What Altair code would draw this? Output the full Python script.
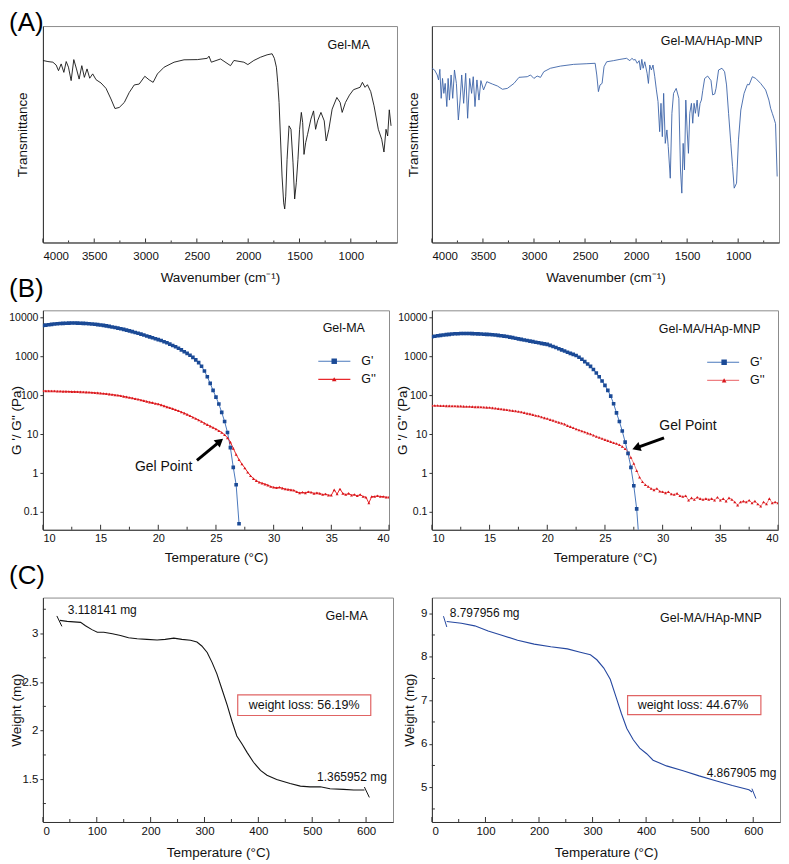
import altair as alt
import pandas as pd

FONT = "Liberation Sans"
AX = "#333333"
FRAME = "#8c8c8c"

# ---------------- (A) FTIR spectra: (wavenumber cm-1, transmittance a.u.) ----------------
A1_GELMA = [(4000, 84.1), (3951, 83.6), (3903, 83.3), (3871, 82.0), (3848, 79.4), (3822, 82.5), (3796, 78.6),
            (3773, 83.6), (3751, 81.0), (3725, 74.8), (3699, 84.5), (3673, 80.2), (3647, 75.5), (3621, 81.7),
            (3596, 76.3), (3570, 80.2), (3544, 75.9), (3515, 77.9), (3482, 75.2), (3434, 73.7), (3385, 71.2),
            (3337, 66.3), (3298, 61.9), (3256, 62.4), (3207, 64.7), (3159, 69.3), (3110, 72.8), (3062, 73.2),
            (3007, 76.8), (2964, 75.1), (2926, 74.0), (2884, 77.9), (2819, 81.0), (2722, 83.3), (2625, 84.4),
            (2495, 84.5), (2398, 85.1), (2382, 86.1), (2359, 83.3), (2269, 84.8), (2172, 81.7), (2139, 84.1),
            (2042, 83.3), (2003, 82.2), (1945, 84.1), (1880, 85.6), (1816, 86.7), (1767, 87.2), (1745, 85.1),
            (1725, 81.0), (1712, 74.0), (1699, 64.7), (1686, 49.2), (1670, 30.7), (1654, 18.3), (1644, 15.5),
            (1634, 21.4), (1621, 38.4), (1602, 53.9), (1583, 52.3), (1563, 36.8), (1547, 20.1), (1531, 27.6),
            (1515, 38.4), (1499, 52.3), (1482, 60.1), (1469, 55.4), (1456, 40.7), (1440, 46.1), (1421, 50.0),
            (1389, 57.0), (1363, 60.8), (1343, 52.3), (1324, 56.2), (1291, 60.1), (1259, 56.2), (1240, 46.9),
            (1214, 52.3), (1182, 61.6), (1136, 67.0), (1104, 64.7), (1084, 60.1), (1052, 64.7), (1013, 68.1),
            (974, 70.6), (910, 71.7), (887, 74.0), (861, 71.7), (838, 72.9), (806, 69.7), (774, 63.2),
            (732, 52.3), (699, 47.7), (677, 41.8), (657, 52.3), (641, 49.2), (625, 61.3), (608, 53.9)]

A2_HAP = [(4000, 80.5), (3974, 79.7), (3948, 77.4), (3935, 75.1), (3922, 80.0), (3909, 66.6), (3896, 75.8),
          (3883, 68.9), (3870, 73.5), (3854, 62.8), (3841, 75.8), (3828, 65.8), (3812, 77.4), (3796, 66.6),
          (3779, 79.7), (3760, 73.5), (3741, 56.6), (3724, 65.8), (3708, 77.4), (3689, 64.3), (3669, 78.2),
          (3650, 57.4), (3630, 75.8), (3611, 68.9), (3595, 76.6), (3578, 62.8), (3559, 75.1), (3539, 65.8),
          (3520, 74.8), (3494, 70.5), (3462, 74.3), (3407, 73.2), (3358, 72.3), (3309, 70.8), (3261, 71.2),
          (3196, 73.5), (3147, 76.3), (3066, 76.6), (3034, 77.4), (3001, 75.8), (2969, 76.9), (2936, 76.3),
          (2904, 78.9), (2839, 80.5), (2742, 81.5), (2612, 82.3), (2482, 82.6), (2401, 82.8), (2385, 77.4),
          (2369, 69.7), (2353, 72.8), (2333, 73.5), (2314, 81.2), (2288, 83.5), (2223, 84.0), (2158, 84.6),
          (2093, 85.1), (2061, 84.0), (2041, 85.1), (2022, 84.3), (2009, 84.6), (1989, 82.8), (1970, 84.0),
          (1957, 79.7), (1944, 84.6), (1931, 80.5), (1915, 83.5), (1892, 78.2), (1879, 73.5), (1866, 82.0),
          (1850, 79.7), (1834, 82.0), (1817, 76.6), (1801, 70.5), (1785, 65.1), (1769, 51.2), (1756, 64.3),
          (1743, 48.9), (1730, 68.9), (1714, 45.8), (1698, 52.0), (1685, 44.3), (1665, 29.7), (1649, 59.7),
          (1633, 68.9), (1607, 71.2), (1581, 66.6), (1565, 33.5), (1552, 22.8), (1539, 45.8), (1526, 33.5),
          (1513, 65.8), (1500, 52.0), (1487, 41.2), (1474, 59.7), (1458, 64.3), (1445, 55.1), (1432, 64.3),
          (1419, 59.7), (1402, 65.8), (1389, 58.2), (1373, 64.3), (1360, 65.8), (1347, 70.2), (1328, 75.8),
          (1299, 76.9), (1266, 74.8), (1250, 68.2), (1230, 68.6), (1217, 71.2), (1192, 79.7), (1159, 80.5),
          (1133, 78.9), (1114, 72.8), (1094, 59.7), (1072, 45.8), (1055, 35.1), (1039, 25.1), (1016, 27.4),
          (997, 47.4), (974, 61.2), (942, 68.9), (909, 73.1), (893, 72.8), (861, 76.6), (828, 75.8),
          (780, 73.5), (731, 70.5), (699, 65.8), (682, 62.0), (666, 59.7), (650, 57.4), (634, 54.9), (618, 30.5)]

A_LABELS = [4000, 3500, 3000, 2500, 2000, 1500, 1000]
A_MINOR = [3750, 3250, 2750, 2250, 1750, 1250, 750]

# ---------------- (B) rheology: temperature grid (degC) and moduli (Pa) ----------------
T_GRID = [10.0, 10.25, 10.5, 10.75, 11.0, 11.25, 11.5, 11.75, 12.0, 12.25,
          12.5, 12.75, 13.0, 13.25, 13.5, 13.75, 14.0, 14.25, 14.5, 14.75,
          15.0, 15.25, 15.5, 15.75, 16.0, 16.25, 16.5, 16.75, 17.0, 17.25,
          17.5, 17.75, 18.0, 18.25, 18.5, 18.75, 19.0, 19.25, 19.5, 19.75,
          20.0, 20.25, 20.5, 20.75, 21.0, 21.25, 21.5, 21.75, 22.0, 22.25,
          22.5, 22.75, 23.0, 23.25, 23.5, 23.75, 24.0, 24.25, 24.5, 24.75,
          25.0, 25.25, 25.5, 25.75, 26.0, 26.25, 26.5, 26.75, 27.0, 27.25,
          27.5, 27.75, 28.0, 28.25, 28.5, 28.75, 29.0, 29.25, 29.5, 29.75,
          30.0, 30.25, 30.5, 30.75, 31.0, 31.25, 31.5, 31.75, 32.0, 32.25,
          32.5, 32.75, 33.0, 33.25, 33.5, 33.75, 34.0, 34.25, 34.5, 34.75,
          35.0, 35.25, 35.5, 35.75, 36.0, 36.25, 36.5, 36.75, 37.0, 37.25,
          37.5, 37.75, 38.0, 38.25, 38.5, 38.75, 39.0, 39.25, 39.5, 39.75,
          40.0]

GP_GELMA = [6100, 6250, 6400, 6550, 6680, 6800, 6880, 6950, 7000, 7040,
            7060, 7060, 7040, 7000, 6950, 6880, 6800, 6700, 6580, 6440,
            6300, 6150, 5980, 5800, 5620, 5440, 5250, 5060, 4860, 4660,
            4450, 4250, 4050, 3860, 3670, 3480, 3300, 3130, 2960, 2800,
            2650, 2510, 2340, 2200, 2040, 1880, 1740, 1600, 1450, 1300,
            1175, 1050, 930, 800, 680, 550, 415, 295, 200, 132,
            89, 59, 36, 21, 11, 4.5, 1.4, 0.5, 0.05]

GPP_GELMA = [129, 128, 128, 127, 127, 126, 126, 125, 125, 124,
             123, 123, 122, 121, 120, 119, 118, 117, 115, 114,
             112, 110, 108, 106, 104, 101, 99, 96, 93, 90,
             87, 84, 81, 78, 75, 72, 69, 66, 64, 61,
             59, 56, 53, 50, 47.5, 45, 42, 39.5, 37, 34.5,
             32, 29.5, 27, 25, 23, 21, 19, 17.5, 16, 14.7,
             13.5, 12.2, 11, 9.6, 8, 6.2, 4.3, 3.0, 2.2, 1.7,
             1.35, 1.05, 0.85, 0.72, 0.64, 0.58, 0.55, 0.52, 0.49, 0.45,
             0.43, 0.42, 0.43, 0.41, 0.39, 0.38, 0.37, 0.36, 0.33, 0.31,
             0.32, 0.31, 0.33, 0.32, 0.30, 0.31, 0.30, 0.28, 0.29, 0.27,
             0.27, 0.37, 0.29, 0.39, 0.30, 0.28, 0.30, 0.27, 0.28, 0.26,
             0.28, 0.25, 0.24, 0.17, 0.25, 0.25, 0.26, 0.25, 0.25, 0.24,
             0.24]

GP_HAP = [3150, 3250, 3340, 3420, 3500, 3570, 3630, 3690, 3740, 3770,
          3800, 3810, 3810, 3800, 3790, 3760, 3730, 3700, 3660, 3630,
          3600, 3540, 3480, 3410, 3340, 3260, 3180, 3080, 2980, 2880,
          2780, 2690, 2600, 2515, 2430, 2355, 2275, 2200, 2130, 2060,
          2000, 1885, 1770, 1660, 1550, 1445, 1350, 1260, 1175, 1110,
          1040, 935, 830, 725, 630, 545, 455, 370, 295, 230,
          178, 132, 94, 60, 35, 21, 12, 6.2, 3.2, 1.4,
          0.47, 0.12, 0.012]

GPP_HAP = [54, 54, 54, 53.5, 53.5, 53, 53, 52.5, 52.5, 52,
           52, 51.5, 51, 51, 50.5, 50, 50, 49.5, 49, 48.5,
           48, 47, 46, 45, 44, 43, 42, 41, 40, 39,
           38, 37, 35.5, 34, 33, 31.5, 30, 29, 27.5, 26,
           25, 23.5, 22.5, 21, 20, 19, 18, 16.5, 15.5, 14.5,
           13.5, 12.7, 12, 11.3, 10.6, 10, 9.3, 8.7, 8.2, 7.7,
           7.2, 6.8, 6.4, 6.0, 5.7, 5.3, 4.8, 4.2, 3.4, 2.5,
           1.75, 1.15, 0.78, 0.6, 0.5, 0.45, 0.4, 0.37, 0.40, 0.34,
           0.33, 0.31, 0.33, 0.29, 0.28, 0.30, 0.26, 0.25, 0.26, 0.20,
           0.23, 0.21, 0.24, 0.22, 0.21, 0.22, 0.21, 0.22, 0.20, 0.24,
           0.20, 0.22, 0.19, 0.23, 0.21, 0.18, 0.15, 0.18, 0.19, 0.18,
           0.20, 0.17, 0.19, 0.16, 0.14, 0.18, 0.16, 0.22, 0.17, 0.18,
           0.17]

B_LABELS = [10, 15, 20, 25, 30, 35, 40]
B_MINOR = [12.5, 17.5, 22.5, 27.5, 32.5, 37.5]
B_YLABELS = [0.1, 1, 10, 100, 1000, 10000]

# ---------------- (C) TGA: (temperature degC, weight mg) ----------------
C1_GELMA = [(31.5, 3.135), (45, 3.125), (70, 3.115), (79, 3.08), (91, 3.04), (101, 3.013), (113, 3.013),
            (129, 2.997), (144, 2.98), (159, 2.956), (175, 2.946), (193, 2.94), (212, 2.933), (227, 2.94),
            (243, 2.953), (258, 2.94), (274, 2.93), (286, 2.912), (295, 2.872), (305, 2.805), (314, 2.703),
            (323, 2.585), (332, 2.434), (342, 2.265), (351, 2.097), (360, 1.945), (370, 1.861), (379, 1.777),
            (391, 1.675), (404, 1.591), (416, 1.541), (434, 1.497), (459, 1.456), (478, 1.429), (496, 1.422),
            (515, 1.422), (533, 1.402), (558, 1.396), (577, 1.389), (597, 1.389)]
C1_HOOKS = [(25.9, 3.181, 35.2, 3.074), (596.9, 1.42, 606.1, 1.313)]

C2_HAP = [(27.7, 8.81), (55, 8.77), (80, 8.71), (105, 8.59), (129, 8.50), (160, 8.38), (191, 8.29),
          (222, 8.23), (253, 8.18), (277, 8.105), (296, 8.045), (308, 7.93), (321, 7.74), (333, 7.48),
          (345, 7.03), (354, 6.69), (364, 6.35), (376, 6.09), (388, 5.90), (401, 5.77), (413, 5.62),
          (438, 5.49), (469, 5.38), (499, 5.26), (530, 5.15), (561, 5.04), (592, 4.94), (598, 4.89)]
C2_HOOKS = [(21.6, 8.932, 27.8, 8.684), (597.6, 4.966, 605.0, 4.74)]

C_LABELS = [0, 100, 200, 300, 400, 500, 600]
C_MINOR = [50, 150, 250, 350, 450, 550]


# ---------------- helpers ----------------
class Panel:
    def __init__(self, xs, ys, xaxis, yaxis):
        self.xs, self.ys, self.xaxis, self.yaxis = xs, ys, xaxis, yaxis

    def X(self, f="x"):
        return alt.X(f + ":Q", scale=self.xs, axis=self.xaxis)

    def Y(self, f="y"):
        return alt.Y(f + ":Q", scale=self.ys, axis=self.yaxis)

    def xticks_in(self, values, h, length):
        return alt.Chart(pd.DataFrame({"x": values})).mark_rule(color=AX, strokeWidth=1).encode(
            x=self.X(), y=alt.value(h), y2=alt.value(h - length))

    def yticks_in(self, values, length):
        return alt.Chart(pd.DataFrame({"y": values})).mark_rule(color=AX, strokeWidth=1).encode(
            y=self.Y(), x=alt.value(0), x2=alt.value(length))

    def texts(self, rows, size=12, align="center", color="#111"):
        df = pd.DataFrame(rows, columns=["x", "y", "label"])
        return alt.Chart(df).mark_text(font=FONT, fontSize=size, align=align, baseline="middle",
                                       color=color).encode(x=self.X(), y=self.Y(), text="label:N")

    def segs(self, rows, color, width):
        df = pd.DataFrame(rows, columns=["x", "y", "x2", "y2"])
        return alt.Chart(df).mark_rule(color=color, strokeWidth=width).encode(
            x=self.X(), y=self.Y(), x2="x2:Q", y2="y2:Q")

    def point(self, x, y, shape, size, color, angle=0):
        return alt.Chart(pd.DataFrame({"x": [x], "y": [y]})).mark_point(
            shape=shape, filled=True, size=size, color=color, opacity=1, angle=angle).encode(
            x=self.X(), y=self.Y())


def tag(letter, dx, dy):
    return alt.Chart(pd.DataFrame({"t": [letter]})).mark_text(
        font=FONT, fontSize=26, align="left", baseline="top", color="black").encode(
        text="t:N", x=alt.value(dx), y=alt.value(dy))


def ftir(pairs, color, dom, w, h, name, name_xy, ytx, letters):
    df = pd.DataFrame(pairs, columns=["x", "y"])
    p = Panel(alt.Scale(domain=dom, reverse=True, nice=False, zero=False),
              alt.Scale(domain=[0, 100], nice=False, zero=False),
              alt.Axis(values=A_LABELS, format="d", ticks=False, labelPadding=8,
                       title="Wavenumber (cm\u207b\u00b9)", titleY=35, titleBaseline="middle", grid=False),
              alt.Axis(labels=False, ticks=False, title="Transmittance", titleX=ytx,
                       titleBaseline="middle", grid=False))
    line = alt.Chart(df).mark_line(color=color, strokeWidth=0.9, clip=True).encode(x=p.X(), y=p.Y())
    layers = [line, p.xticks_in(A_LABELS, h, 4), p.xticks_in(A_MINOR, h, 2),
              p.texts([(name_xy[0], name_xy[1], name)], size=12.5)] + letters
    return alt.layer(*layers).properties(width=w, height=h)


def rheo(gp, gpp, pp_line, w, h, name, name_xy, legend, arrow, head_angle, gel_xy, ytx, letters):
    dgp = pd.DataFrame({"x": T_GRID[:len(gp)], "y": gp})
    dgpp = pd.DataFrame({"x": T_GRID[:len(gpp)], "y": gpp})
    p = Panel(alt.Scale(domain=[10, 40], nice=False, zero=False),
              alt.Scale(type="log", domain=[0.035, 15000], nice=False),
              alt.Axis(values=B_LABELS, ticks=False, labelPadding=3, labelFontSize=11,
                       title="Temperature (\u00b0C)", titleY=27.5, titleBaseline="middle", grid=False),
              alt.Axis(values=B_YLABELS, format="~g", tickSize=3, labelPadding=2, labelFontSize=10.5,
                       title="G '/ G'' (Pa)", titleX=ytx, titleBaseline="middle", grid=False))
    blue_line, blue_pt, red_pt = "#4a78bd", "#1b4a96", "#d9161b"
    base = alt.Chart(dgp).mark_line(color=blue_line, strokeWidth=1, clip=True).encode(x=p.X(), y=p.Y())
    gp_pts = alt.Chart(dgp).mark_point(shape="square", filled=True, size=13, color=blue_pt, opacity=1,
                                       clip=True).encode(x=p.X(), y=p.Y())
    gpp_line = alt.Chart(dgpp).mark_line(color=pp_line, strokeWidth=1, clip=True).encode(x=p.X(), y=p.Y())
    gpp_pts = alt.Chart(dgpp).mark_point(shape="triangle-up", filled=True, size=9, color=red_pt, opacity=1,
                                         clip=True).encode(x=p.X(), y=p.Y())
    lx1, lx2, lxm, ltx, ly1, ly2 = legend
    layers = [base, gpp_line, gpp_pts, gp_pts, p.xticks_in(B_LABELS, h, 5), p.xticks_in(B_MINOR, h, 3),
              p.segs([(lx1, ly1, lx2, ly1)], blue_line, 1.2), p.segs([(lx1, ly2, lx2, ly2)], pp_line, 1.2),
              p.point(lxm, ly1, "square", 30, blue_pt), p.point(lxm, ly2, "triangle-up", 22, red_pt),
              p.texts([(ltx, ly1, "G'"), (ltx, ly2, "G''")], size=12.5, align="left"),
              p.segs([arrow], "black", 3),
              p.point(arrow[2], arrow[3], "triangle-up", 90, "black", head_angle),
              p.texts([(gel_xy[0], gel_xy[1], "Gel Point")], size=14),
              p.texts([(name_xy[0], name_xy[1], name)], size=12.5)] + letters
    return alt.layer(*layers).properties(width=w, height=h)


def tga(pairs, hooks, color, ydom, ylabels, yminor, w, h, name, name_xy, start, end, box, loss, ytx, letters):
    df = pd.DataFrame(pairs, columns=["x", "y"])
    p = Panel(alt.Scale(domain=[0, 650], nice=False, zero=False),
              alt.Scale(domain=ydom, nice=False, zero=False),
              alt.Axis(values=C_LABELS, ticks=False, labelPadding=4, title="Temperature (\u00b0C)",
                       titleY=31, titleBaseline="middle", grid=False),
              alt.Axis(values=ylabels, format="~g", tickSize=3, labelPadding=2, title="Weight (mg)",
                       titleX=ytx, titleBaseline="middle", grid=False))
    line = alt.Chart(df).mark_line(color=color, strokeWidth=1.1, clip=True).encode(x=p.X(), y=p.Y())
    bx1, bx2, by1, by2 = box
    rect = alt.Chart(pd.DataFrame({"x": [bx1], "x2": [bx2], "y": [by1], "y2": [by2]})).mark_rect(
        fill="white", stroke="#e06464", strokeWidth=1.2).encode(x=p.X(), x2="x2:Q", y=p.Y(), y2="y2:Q")
    layers = [line, p.segs(hooks, color, 1), p.xticks_in(C_LABELS, h, 5), p.xticks_in(C_MINOR, h, 3),
              p.yticks_in(yminor, 3), rect, p.texts([start, end], size=12, align="left"),
              p.texts([(name_xy[0], name_xy[1], name)], size=12.5), p.texts([loss], size=12.5)] + letters
    return alt.layer(*layers).properties(width=w, height=h)


# ---------------- panels ----------------
a1 = ftir(A1_GELMA, "#141414", [550, 4000], 355, 217, "Gel-MA", (1021, 91.2), -20, [tag("(A)", -34, -16)])
a2 = ftir(A2_HAP, "#3c64a8", [600, 4000], 348, 217, "Gel-MA/HAp-MNP", (1259, 93.0), -18, [])

b1 = rheo(GP_GELMA, GPP_GELMA, "#e8292c", 347, 220, "Gel-MA", (36.08, 5240),
          (33.87, 36.65, 35.25, 37.6, 740, 254),
          (23.35, 2.1, 25.34, 6.5), 50, (20.46, 1.45), -26, [tag("(B)", -34, -34)])
b2 = rheo(GP_HAP, GPP_HAP, "#ee7f82", 347, 220, "Gel-MA/HAp-MNP", (34.08, 4940),
          (33.86, 36.63, 35.33, 37.58, 697, 239),
          (30.12, 7.96, 27.71, 4.4), 250, (32.2, 16.5), -29, [])

c1 = tga(C1_GELMA, C1_HOOKS, "#141414", [1.06, 3.37], [1.5, 2, 2.5, 3], [1.25, 1.75, 2.25, 2.75, 3.25],
         351, 225, "Gel-MA", (564, 3.178), (46.3, 3.238, "3.118141 mg"), (509, 1.518, "1.365952 mg"),
         (361.7, 608.7, 2.368, 2.156), (485, 2.262, "weight loss: 56.19%"), -26, [tag("(C)", -34, -35)])
c2 = tga(C2_HAP, C2_HOOKS, "#2648a0", [4.2, 9.36], [5, 6, 7, 8, 9], [4.5, 5.5, 6.5, 7.5, 8.5],
         349, 225, "Gel-MA/HAp-MNP", (521, 8.894), (33.3, 9.006, "8.797956 mg"), (513, 5.333, "4.867905 mg"),
         (365.4, 614.3, 7.107, 6.670), (487.6, 6.888, "weight loss: 44.67%"), -22.5, [])

chart = alt.concat(a1, a2, b1, b2, c1, c2, columns=2, bounds="flush",
                   spacing={"row": 68, "column": 35}).properties(padding=0).configure_view(
    stroke=FRAME, strokeWidth=1
).configure_axis(
    labelFont=FONT, titleFont=FONT, labelFontSize=11.5, titleFontSize=13.5, titleFontWeight="normal",
    labelColor="#111111", titleColor="#111111", domainColor=AX, tickColor=AX, domainWidth=1
).configure_text(font=FONT)

chart.save("out.html", embed_options={"renderer": "svg", "actions": False})
